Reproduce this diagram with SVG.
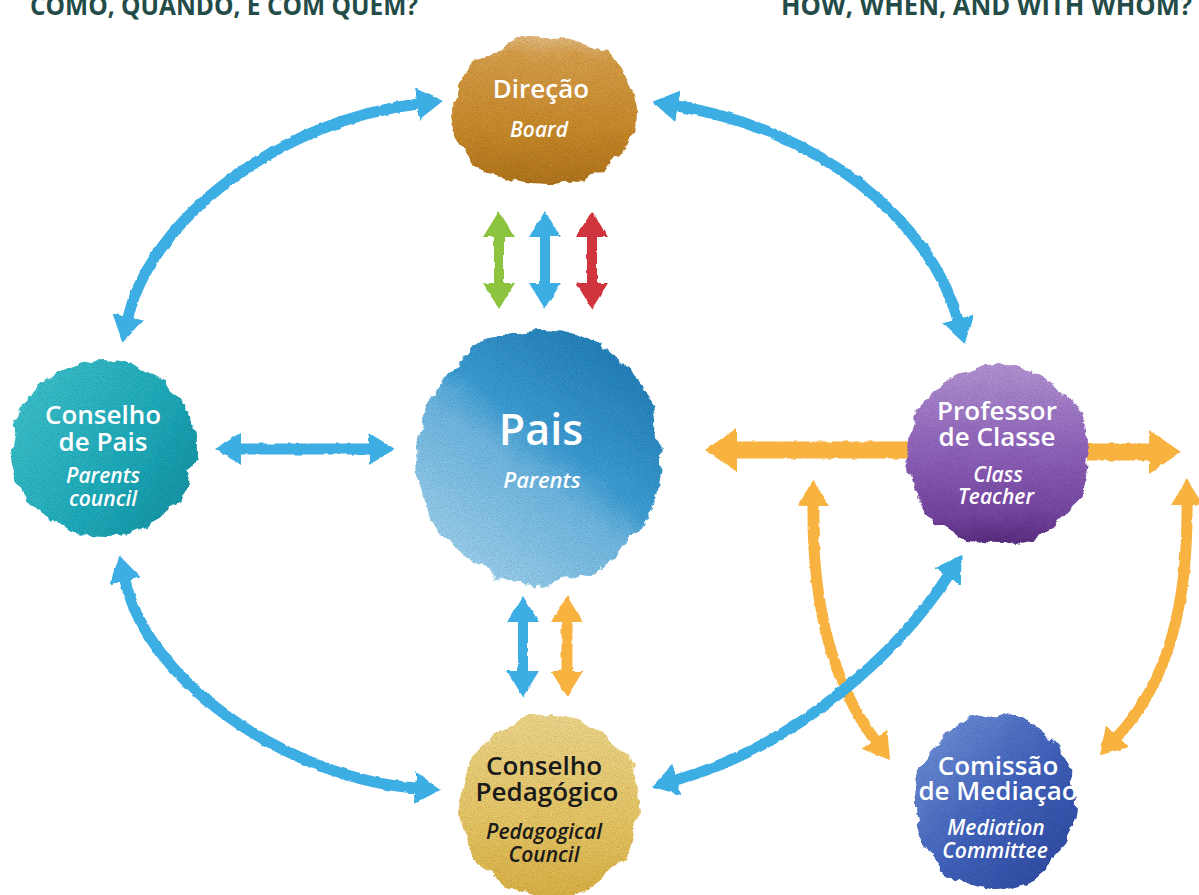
<svg xmlns="http://www.w3.org/2000/svg" width="1199" height="895" viewBox="0 0 1199 895">
<defs>
<style>
.hdr{font-family:"Open Sans","Liberation Sans",sans-serif;font-weight:700;font-size:26px;fill:#234b47}
.t{font-family:"Open Sans","Noto Sans","Liberation Sans",sans-serif;font-weight:600;font-size:26px;fill:#ffffff;text-anchor:middle}
.s{font-family:"Open Sans","Noto Sans","Liberation Sans",sans-serif;font-weight:600;font-style:italic;font-size:21px;fill:#ffffff;text-anchor:middle}
.dk{fill:#1a1a1a}
.blue{fill:none;stroke:#3daee3;stroke-width:11;stroke-linecap:butt}
.orange{fill:none;stroke:#f7b241;stroke-width:11}
.orangeT{fill:none;stroke:#f7b241;stroke-width:17}
.green{fill:none;stroke:#8cc43f;stroke-width:10}
.red{fill:none;stroke:#d0363c;stroke-width:10}
.vb{fill:none;stroke:#3daee3;stroke-width:10}
</style>
<marker id="mb" viewBox="0 0 26 32" markerWidth="26" markerHeight="32" refX="1" refY="16" orient="auto-start-reverse" markerUnits="userSpaceOnUse"><path d="M0,0 L26,16 L0,32 Z" fill="#3daee3"/></marker>
<marker id="mo" viewBox="0 0 26 32" markerWidth="26" markerHeight="32" refX="1" refY="16" orient="auto-start-reverse" markerUnits="userSpaceOnUse"><path d="M0,0 L26,16 L0,32 Z" fill="#f7b241"/></marker>
<marker id="moL" viewBox="0 0 32 44" markerWidth="32" markerHeight="44" refX="1" refY="22" orient="auto-start-reverse" markerUnits="userSpaceOnUse"><path d="M0,0 L32,22 L0,44 Z" fill="#f7b241"/></marker>
<marker id="mg" viewBox="0 0 26 32" markerWidth="26" markerHeight="32" refX="1" refY="16" orient="auto-start-reverse" markerUnits="userSpaceOnUse"><path d="M0,0 L26,16 L0,32 Z" fill="#8cc43f"/></marker>
<marker id="mr" viewBox="0 0 26 32" markerWidth="26" markerHeight="32" refX="1" refY="16" orient="auto-start-reverse" markerUnits="userSpaceOnUse"><path d="M0,0 L26,16 L0,32 Z" fill="#d0363c"/></marker>
<filter id="wc" x="-20%" y="-20%" width="140%" height="140%">
<feTurbulence type="fractalNoise" baseFrequency="0.045" numOctaves="4" seed="3" result="n"/>
<feDisplacementMap in="SourceGraphic" in2="n" scale="16" xChannelSelector="R" yChannelSelector="G" result="d"/>
<feTurbulence type="fractalNoise" baseFrequency="0.8" numOctaves="2" seed="7" result="g"/>
<feColorMatrix in="g" type="matrix" values="0 0 0 0 0  0 0 0 0 0  0 0 0 0 0  0.6 0 0 0 -0.2" result="ga"/>
<feComposite in="ga" in2="d" operator="in" result="gi"/>
<feMerge><feMergeNode in="d"/><feMergeNode in="gi"/></feMerge>
</filter>
<filter id="rough" x="-10%" y="-10%" width="120%" height="120%">
<feTurbulence type="fractalNoise" baseFrequency="0.12" numOctaves="2" seed="2" result="n"/>
<feDisplacementMap in="SourceGraphic" in2="n" scale="3" xChannelSelector="R" yChannelSelector="G"/>
</filter>
<linearGradient id="gDir" x1="0" y1="0" x2="0" y2="1">
<stop offset="0" stop-color="#e6bd80"/><stop offset="0.15" stop-color="#d9a04a"/><stop offset="0.6" stop-color="#cd8d2e"/><stop offset="1" stop-color="#b3761f"/>
</linearGradient>
<linearGradient id="gPais" x1="0.8" y1="0.1" x2="0.2" y2="0.95">
<stop offset="0" stop-color="#2783bd"/><stop offset="0.4" stop-color="#3d9fd6"/><stop offset="0.55" stop-color="#6fb9e4"/><stop offset="1" stop-color="#9fd3f0"/>
</linearGradient>
<linearGradient id="gCP" x1="0" y1="0.2" x2="1" y2="0.8">
<stop offset="0" stop-color="#3ec4cf"/><stop offset="0.6" stop-color="#22adbd"/><stop offset="1" stop-color="#1896a8"/>
</linearGradient>
<linearGradient id="gProf" x1="0" y1="0" x2="0" y2="1">
<stop offset="0" stop-color="#b695d6"/><stop offset="0.45" stop-color="#9367bf"/><stop offset="0.8" stop-color="#7a4aa6"/><stop offset="1" stop-color="#5a2e82"/>
</linearGradient>
<linearGradient id="gPed" x1="0" y1="0" x2="0" y2="1">
<stop offset="0" stop-color="#f1d98c"/><stop offset="0.6" stop-color="#e9c866"/><stop offset="1" stop-color="#ddb447"/>
</linearGradient>
<linearGradient id="gCom" x1="0" y1="0" x2="1" y2="1">
<stop offset="0" stop-color="#7a9ae0"/><stop offset="0.5" stop-color="#4466c0"/><stop offset="1" stop-color="#2c47a0"/>
</linearGradient>
</defs>
<rect width="1199" height="895" fill="#ffffff"/>

<g id="headers">
<text class="hdr" x="30" y="15" textLength="388" lengthAdjust="spacingAndGlyphs">COMO, QUANDO, E COM QUEM?</text>
<text class="hdr" x="781" y="15" textLength="411" lengthAdjust="spacingAndGlyphs">HOW, WHEN, AND WITH WHOM?</text>
</g>

<g id="connectors" filter="url(#rough)">
<path class="blue" d="M128,318 C150,220 280,120 418,104" marker-start="url(#mb)" marker-end="url(#mb)"/>
<path class="blue" d="M677,106 C820,130 930,220 958,320" marker-start="url(#mb)" marker-end="url(#mb)"/>
<path class="blue" d="M125,580 C150,690 300,780 416,788" marker-start="url(#mb)" marker-end="url(#mb)"/>
<path class="blue" d="M240,449 L370,449" marker-start="url(#mb)" marker-end="url(#mb)"/>
<path class="green" d="M499,236 L499,284" marker-start="url(#mg)" marker-end="url(#mg)"/>
<path class="vb" d="M545,236 L545,284" marker-start="url(#mb)" marker-end="url(#mb)"/>
<path class="red" d="M592,236 L592,284" marker-start="url(#mr)" marker-end="url(#mr)"/>
<path class="vb" d="M523,621 L523,672" marker-start="url(#mb)" marker-end="url(#mb)"/>
<path class="orange" d="M567,621 L567,672" marker-start="url(#mo)" marker-end="url(#mo)"/>
<path class="orangeT" d="M912,450 L736,450" marker-end="url(#moL)"/>
<path class="orangeT" d="M1088,452 L1150,452" marker-end="url(#moL)"/>
<path class="orange" d="M813,505 C812,600 830,680 875,740" marker-start="url(#mo)" marker-end="url(#mo)"/>
<path class="orange" d="M1187,504 C1188,600 1170,680 1117,737" marker-start="url(#mo)" marker-end="url(#mo)"/>
<path class="blue" d="M676,780 C800,745 900,650 948,576" marker-start="url(#mb)" marker-end="url(#mb)"/>
</g>

<g id="node-direcao">
<ellipse cx="545" cy="111" rx="93" ry="75" fill="url(#gDir)" filter="url(#wc)"/>
<text class="t" x="541" y="98">Direção</text>
<text class="s" x="539" y="137">Board</text>
</g>

<g id="node-pais">
<ellipse cx="539" cy="457" rx="122" ry="127" fill="url(#gPais)" filter="url(#wc)"/>
<text class="t" x="541" y="445" style="font-size:43px">Pais</text>
<text class="s" x="542" y="488" style="font-size:22px">Parents</text>
</g>

<g id="node-conselho-pais">
<ellipse cx="104" cy="448" rx="93" ry="88" fill="url(#gCP)" filter="url(#wc)"/>
<text class="t" x="103" y="424">Conselho</text>
<text class="t" x="103" y="451">de Pais</text>
<text class="s" x="103" y="483">Parents</text>
<text class="s" x="103" y="506">council</text>
</g>

<g id="node-professor">
<ellipse cx="998" cy="455" rx="91" ry="90" fill="url(#gProf)" filter="url(#wc)"/>
<text class="t" x="997" y="420">Professor</text>
<text class="t" x="997" y="446">de Classe</text>
<text class="s" x="998" y="482">Class</text>
<text class="s" x="996" y="504">Teacher</text>
</g>

<g id="node-conselho-pedagogico">
<ellipse cx="550" cy="806" rx="90" ry="92" fill="url(#gPed)" filter="url(#wc)"/>
<text class="t dk" x="544" y="775">Conselho</text>
<text class="t dk" x="547" y="801">Pedagógico</text>
<text class="s dk" x="544" y="839">Pedagogical</text>
<text class="s dk" x="544" y="862">Council</text>
</g>

<g id="node-comissao">
<ellipse cx="995" cy="802" rx="81" ry="87" fill="url(#gCom)" filter="url(#wc)"/>
<text class="t" x="998" y="775">Comissão</text>
<text class="t" x="998" y="800">de Mediaçao</text>
<text class="s" x="996" y="835">Mediation</text>
<text class="s" x="995" y="858">Committee</text>
</g>
</svg>
